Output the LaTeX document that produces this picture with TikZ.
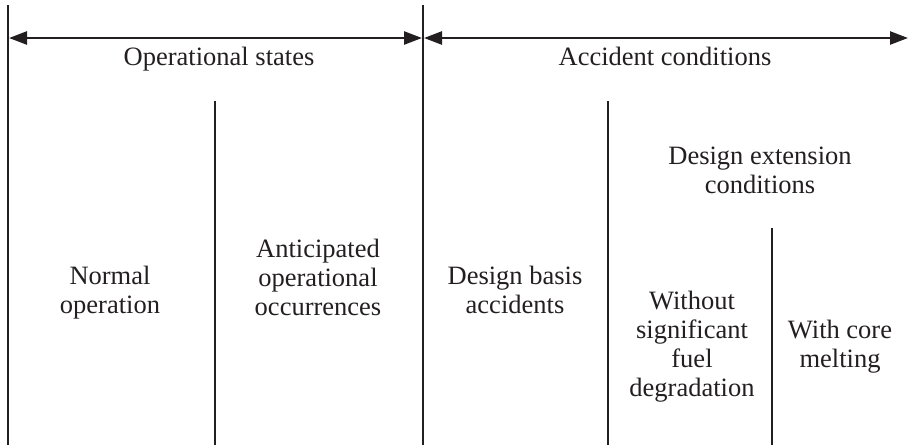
\documentclass[tikz,border=0pt]{standalone}
\usepackage{fontspec}
\setmainfont{Liberation Serif}
\usetikzlibrary{arrows.meta}
\definecolor{ink}{HTML}{231F20}

\begin{document}
\begin{tikzpicture}
[x=1pt,y=-1pt
,ln/.style={draw=ink,line width=2.5pt}
,ar/.style={ln,arrows={Triangle[length=18pt,width=13pt]-Triangle[length=18pt,width=13pt]}}
,tx/.style={align=center,inner sep=0pt,anchor=north,text=ink,font=\fontsize{26.5}{29}\selectfont}
]
\useasboundingbox (0,0) rectangle (909,445);
% dividing lines
\coordinate (s0t) at (8,5);     \coordinate (s0b) at (8,445);
\coordinate (s1t) at (215,101); \coordinate (s1b) at (215,445);
\coordinate (s2t) at (423,5);   \coordinate (s2b) at (423,445);
\coordinate (s3t) at (608,101); \coordinate (s3b) at (608,445);
\coordinate (s4t) at (772,228); \coordinate (s4b) at (772,445);
\draw[ln] (s0t) -- (s0b);
\draw[ln] (s1t) -- (s1b);
\draw[ln] (s2t) -- (s2b);
\draw[ln] (s3t) -- (s3b);
\draw[ln] (s4t) -- (s4b);
% spans
\coordinate (a0) at (9,38);
\coordinate (a1) at (422,38);
\coordinate (a2) at (424,38);
\coordinate (a3) at (908,38);
\draw[ar] (a0) -- (a1);
\draw[ar] (a2) -- (a3);
% labels
\node[tx] (ops) at (219,47) {Operational states};
\node[tx] (acc) at (665,47) {Accident conditions};
\node[tx] (dec) at (760,147) {Design extension\\conditions};
\node[tx] (nor) at (110,266) {Normal\\operation};
\node[tx] (aoo) at (318,239) {Anticipated\\operational\\occurrences};
\node[tx] (dba) at (515,266) {Design basis\\accidents};
\node[tx] (wsf) at (692,291) {Without\\significant\\fuel\\degradation};
\node[tx] (wcm) at (840,320) {With core\\melting};
\end{tikzpicture}
\end{document}
